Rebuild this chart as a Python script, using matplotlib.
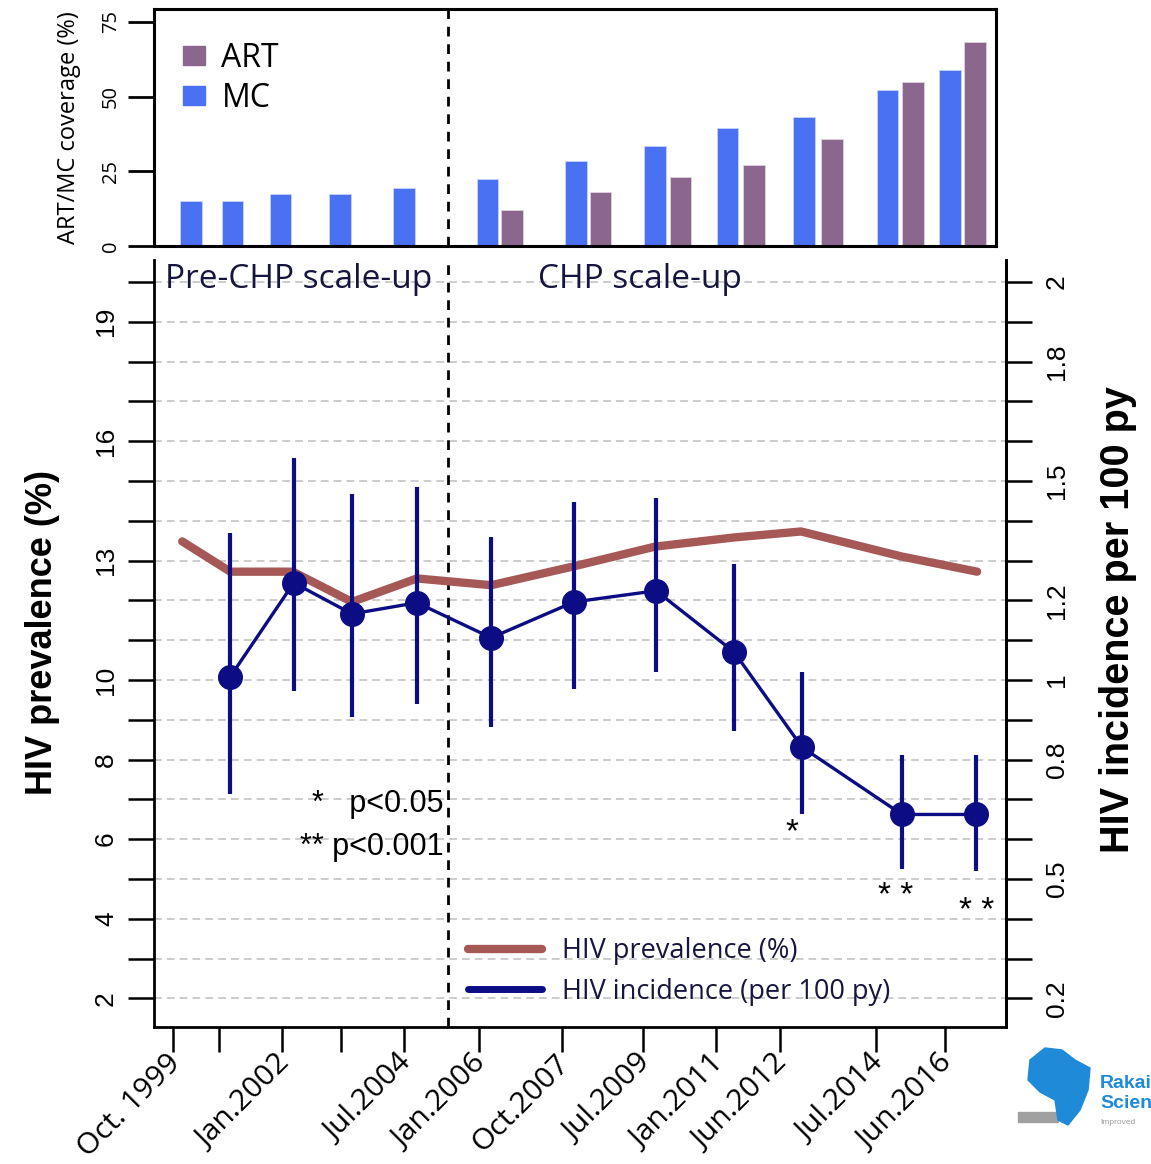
import matplotlib
matplotlib.use('Agg')
import matplotlib.pyplot as plt
import matplotlib.transforms as mtrans
from matplotlib.lines import Line2D
from matplotlib.patches import Patch, Polygon

# ---------------- data ----------------
tick_years = [1999.75, 2000.70, 2002.00, 2003.21, 2004.51, 2006.06, 2007.77,
              2009.44, 2010.95, 2012.27, 2014.25, 2015.67]
tick_labels = ['Oct. 1999', '', 'Jan.2002', '', 'Jul.2004', 'Jan.2006', 'Oct.2007',
               'Jul.2009', 'Jan.2011', 'Jun.2012', 'Jul.2014', 'Jun.2016']

prev_years = [1999.94, 2000.93, 2002.22, 2003.44, 2004.78, 2006.31, 2008.00,
              2009.69, 2011.32, 2012.70, 2014.78, 2016.33]
prevalence = [13.48, 12.72, 12.72, 11.96, 12.55, 12.38, 12.85, 13.35, 13.58,
              13.73, 13.10, 12.72]

inc_years = [2000.93, 2002.24, 2003.44, 2004.78, 2006.31, 2008.02, 2009.71,
             2011.32, 2012.72, 2014.78, 2016.31]
incidence = [1.008, 1.244, 1.166, 1.194, 1.106, 1.196, 1.224, 1.070, 0.831, 0.662, 0.662]
inc_upper = [1.370, 1.557, 1.466, 1.486, 1.360, 1.446, 1.456, 1.292, 1.020, 0.811, 0.811]
inc_lower = [0.713, 0.972, 0.907, 0.940, 0.882, 0.977, 1.020, 0.872, 0.662, 0.526, 0.519]

mc_years = [2000.12, 2000.97, 2001.96, 2003.19, 2004.51, 2006.24, 2008.06,
            2009.69, 2011.19, 2012.76, 2014.49, 2015.77]
mc_cov = [15.2, 15.2, 17.5, 17.5, 19.3, 22.4, 28.3, 33.4, 39.4, 43.1, 52.1, 58.8]
art_years = [2006.74, 2008.57, 2010.22, 2011.73, 2013.34, 2015.01, 2016.29]
art_cov = [11.9, 18.0, 23.0, 27.0, 35.7, 54.8, 68.4]

cov_ticks = [0, 25, 50, 75]
prev_ticks = [2, 3, 4, 5, 6, 7, 8, 9, 10, 11, 12, 13, 14, 15, 16, 17, 18, 19, 20]
prev_tick_labels = ['2', '', '4', '', '6', '', '8', '', '10', '', '', '13', '', '',
                    '16', '', '', '19', '']
inc_ticks = [0.2, 0.3, 0.4, 0.5, 0.6, 0.7, 0.8, 0.9, 1.0, 1.1, 1.2, 1.3, 1.4, 1.5,
             1.6, 1.7, 1.8, 1.9, 2.0]
inc_tick_labels = ['0.2', '', '', '0.5', '', '', '0.8', '', '1', '', '1.2', '', '',
                   '1.5', '', '', '1.8', '', '2']
scaleup_year = 2005.42

# ---------------- style ----------------
MC_COL = '#4a71f1'
ART_COL = '#8b678d'
PREV_COL = '#a65856'
INC_COL = '#0c0c84'
TXT_COL = '#15153f'
SANS = ['Open Sans', 'DejaVu Sans']
ARIAL = ['Liberation Sans', 'DejaVu Sans']

fig = plt.figure(figsize=(11.51, 11.64), dpi=100)

# ---------------- top panel ----------------
axt = fig.add_axes([0.1338, 0.7887, 0.7315, 0.2036])
bw = 0.44
axt.bar(mc_years, mc_cov, width=bw, color=MC_COL, edgecolor='#c9d3ff', linewidth=0.6, zorder=2)
axt.bar(art_years, art_cov, width=bw, color=ART_COL, edgecolor='#e0d0e0', linewidth=0.6, zorder=2)
axt.axvline(scaleup_year, color='black', lw=2.0, ls=(0, (3.5, 2.8)), zorder=1)
axt.set_xlim(1999.358, 2016.72)
axt.set_ylim(0, 79.3)
axt.set_xticks([])
axt.set_yticks(cov_ticks)
axt.set_yticklabels([str(v) for v in cov_ticks], rotation=90, va='center',
                    family=SANS, fontsize=14.5)
axt.tick_params(axis='y', length=19, width=2.0, pad=5)
for s in axt.spines.values():
    s.set_linewidth(2.2)
axt.set_ylabel('ART/MC coverage (%)', family=SANS, fontsize=17, labelpad=14)
axt.legend(handles=[Patch(color=ART_COL, label='ART'), Patch(color=MC_COL, label='MC')],
           loc='upper left', bbox_to_anchor=(0.0345, 0.86), frameon=False,
           prop={'family': SANS, 'size': 23}, handlelength=0.7, handleheight=0.55,
           handletextpad=0.5, labelspacing=0.22, borderpad=0, borderaxespad=0)

# ---------------- bottom panel ----------------
ax = fig.add_axes([0.1338, 0.1177, 0.7402, 0.6589])
ax.set_xlim(1999.358, 2016.925)
ax.set_ylim(1.28, 20.55)
for yv in prev_ticks:
    ax.axhline(yv, color='#cccccc', lw=1.4, ls=(0, (4, 2.6)), zorder=0)
ax.axvline(scaleup_year, color='black', lw=2.0, ls=(0, (3.5, 2.8)), zorder=1)
ax.plot(prev_years, prevalence, color=PREV_COL, lw=6.0, solid_capstyle='round',
        solid_joinstyle='round', zorder=2)
ax.set_yticks(prev_ticks)
ax.set_yticklabels(prev_tick_labels, rotation=90, va='center', family=ARIAL, fontsize=19)
ax.tick_params(axis='y', length=19, width=1.8, pad=7)
ax.set_xticks(tick_years)
ax.set_xticklabels(tick_labels, rotation=45, ha='right', va='top', rotation_mode='anchor',
                   family=SANS, fontsize=21.5)
ax.tick_params(axis='x', length=18, width=1.8, pad=2)
shift = mtrans.ScaledTranslation(-5 / 72, 4 / 72, fig.dpi_scale_trans)
for lab in ax.get_xticklabels():
    lab.set_transform(lab.get_transform() + shift)
ax.spines['top'].set_visible(False)
for s in ['left', 'right', 'bottom']:
    ax.spines[s].set_linewidth(2.0)
ax.set_ylabel('HIV prevalence (%)', family=ARIAL, fontweight='bold', fontsize=26)
ax.yaxis.set_label_coords(-0.110, 0.514)

ax.text(1999.585, 20.05, 'Pre-CHP scale-up', family=SANS, fontsize=24, color=TXT_COL,
        ha='left', va='center', zorder=3)
ax.text(2009.38, 20.05, 'CHP scale-up', family=SANS, fontsize=24, color=TXT_COL,
        ha='center', va='center', zorder=3)
ax.text(2005.32, 6.88, '*   p<0.05', family=ARIAL, fontsize=22, ha='right', va='center')
ax.text(2005.32, 5.80, '** p<0.001', family=ARIAL, fontsize=22, ha='right', va='center')

ax2 = ax.twinx()
ax2.set_ylim(0.128, 2.055)
yerr = [[m - lo for m, lo in zip(incidence, inc_lower)],
        [hi - m for m, hi in zip(incidence, inc_upper)]]
ax2.errorbar(inc_years, incidence, yerr=yerr, color=INC_COL, lw=2.4, elinewidth=3.0,
             capsize=0, marker='o', markersize=17, zorder=4)
ax2.set_yticks(inc_ticks)
ax2.set_yticklabels(inc_tick_labels, rotation=90, va='center', family=ARIAL, fontsize=19)
ax2.tick_params(axis='y', length=19, width=1.8, pad=9)
for s in ['top', 'left', 'bottom']:
    ax2.spines[s].set_visible(False)
ax2.spines['right'].set_linewidth(2.0)
ax2.set_ylabel('HIV incidence per 100 py', family=ARIAL, fontweight='bold', fontsize=28.5)
ax2.yaxis.set_label_coords(1.109, 0.531)

# significance stars
ax2.text(2012.51, 0.615, '*', family=ARIAL, fontsize=24, ha='center', va='center')
ax2.text(2014.64, 0.455, '* *', family=ARIAL, fontsize=24, ha='center', va='center')
ax2.text(2016.33, 0.418, '* *', family=ARIAL, fontsize=24, ha='center', va='center')

handles = [Line2D([], [], color=PREV_COL, lw=6, solid_capstyle='round', label='HIV prevalence (%)'),
           Line2D([], [], color=INC_COL, lw=5, solid_capstyle='round', label='HIV incidence (per 100 py)')]
leg = ax2.legend(handles=handles, loc='lower left', bbox_to_anchor=(0.368, 0.028), frameon=False,
                 prop={'family': SANS, 'size': 19.5}, handlelength=2.75, handletextpad=0.75,
                 labelspacing=0.45, borderpad=0, borderaxespad=0)
for t in leg.get_texts():
    t.set_color(TXT_COL)

# ---------------- logo (decorative) ----------------
W, H = 1151.0, 1164.0
def fp(x, y):
    return (x / W, 1 - y / H)
africa = [(1030, 1060), (1045, 1048), (1062, 1050), (1075, 1060), (1090, 1068), (1088, 1090),
          (1080, 1110), (1068, 1125), (1058, 1120), (1055, 1100), (1040, 1092), (1028, 1080)]
fig.add_artist(Polygon([fp(*p) for p in africa], closed=True, transform=fig.transFigure,
                       color='#1e8ad8', zorder=5))
fig.add_artist(Polygon([fp(1018, 1112), fp(1058, 1112), fp(1058, 1122), fp(1018, 1122)],
                       closed=True, transform=fig.transFigure, color='#a0a0a0', zorder=4))
fig.text(*fp(1100, 1083), 'Rakai', color='#1e8ad8', fontsize=14, fontweight='bold',
         family=ARIAL, ha='left', va='center')
fig.text(*fp(1100, 1104), 'Scien', color='#1e8ad8', fontsize=14, fontweight='bold',
         family=ARIAL, ha='left', va='center')
fig.text(*fp(1100, 1123), 'Improved', color='#9a9a9a', fontsize=6, family=ARIAL,
         ha='left', va='center')

fig.savefig('out.png', dpi=100)
